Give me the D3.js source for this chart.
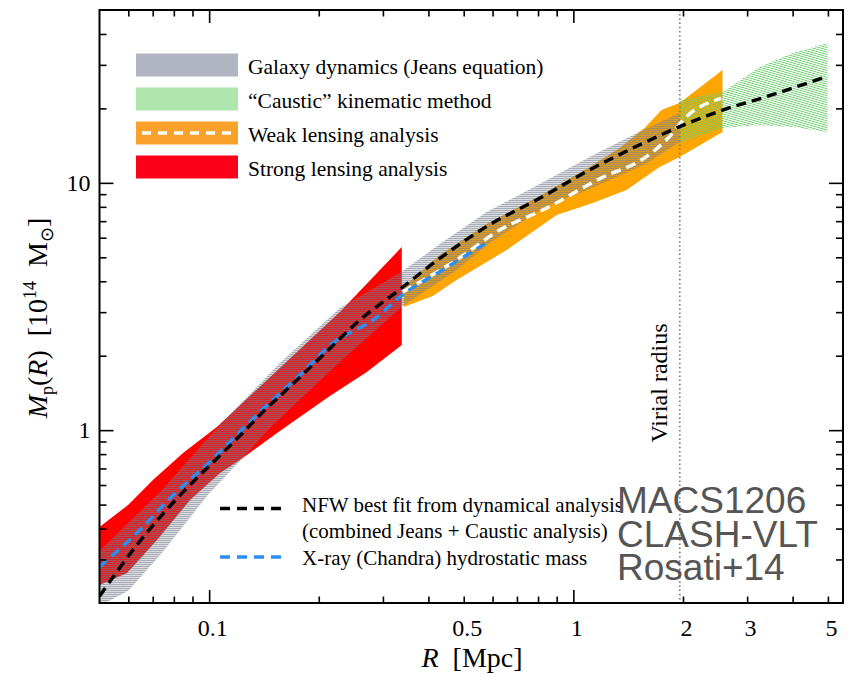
<!DOCTYPE html>
<html>
<head>
<meta charset="utf-8">
<script src="https://cdn.jsdelivr.net/npm/d3@7"></script>
<style>
  html, body { margin: 0; padding: 0; background: #fff; }
  svg { display: block; }
  text { font-family: "Liberation Serif", "Times New Roman", serif; fill: #000; }
</style>
</head>
<body>
<svg id="chart" width="854" height="677"></svg>
<script>
// Projected mass profile M_p(R) of MACS1206; R in Mpc, M in 1e14 Msun.

// NFW best fit (Jeans + Caustic)
const nfwR = [0.05, 0.0639, 0.0764, 0.0914, 0.1048, 0.1228, 0.1422, 0.1648, 0.2056, 0.2593, 0.3268, 0.4298, 0.577, 0.808, 1.108, 1.552, 1.957, 2.573, 3.385, 4.99];
const nfwM = [0.213, 0.349, 0.476, 0.629, 0.765, 0.965, 1.206, 1.476, 2.013, 2.79, 3.62, 4.95, 6.65, 8.66, 11.27, 14.45, 16.87, 19.7, 22.3, 27.0];

// X-ray (Chandra) hydrostatic mass
const xrayR = [0.05, 0.0639, 0.0789, 0.1016, 0.1253, 0.1547, 0.1774, 0.2186, 0.288, 0.3338, 0.4298, 0.571];
const xrayM = [0.280, 0.389, 0.538, 0.757, 1.033, 1.387, 1.671, 2.251, 2.85, 3.46, 4.372, 5.66];

// Weak lensing: central profile and band edges
const wlR = [0.3408, 0.4775, 0.628, 0.843, 1.181, 1.586, 1.837, 2.02, 2.547];
const wlM = [3.63, 4.876, 6.45, 7.89, 10.4, 12.76, 15.37, 18.2, 21.97];
const wlUpR = [0.3423, 0.4298, 0.578, 0.808, 1.108, 1.34, 1.569, 1.747, 1.957, 2.568];
const wlUpM = [3.792, 5.108, 6.816, 8.85, 11.59, 13.83, 16.66, 19.7, 21.03, 28.6];
const wlLoR = [0.3423, 0.4111, 0.478, 0.656, 0.8998, 1.13, 1.40, 1.725, 1.957, 2.568];
const wlLoM = [3.147, 3.486, 4.046, 5.35, 7.41, 8.29, 9.354, 11.59, 12.72, 16.05];

// Galaxy dynamics (Jeans equation) band edges
const jeansUpR = [0.05, 0.0742, 0.0992, 0.1084, 0.1564, 0.2285, 0.340, 0.4298, 0.578, 0.808, 1.108, 1.552, 1.957];
const jeansUpM = [0.3245, 0.5727, 0.929, 1.069, 1.868, 3.118, 4.40, 5.66, 7.62, 9.89, 12.72, 16.36, 19.16];
const jeansLoR = [0.05, 0.0599, 0.0742, 0.0992, 0.12, 0.1487, 0.2285, 0.340, 0.478, 0.589, 0.845, 1.108, 1.579, 1.957];
const jeansLoM = [0.195, 0.2237, 0.3186, 0.5466, 0.7364, 1.039, 1.886, 3.177, 4.441, 5.71, 8.06, 9.44, 11.92, 14.63];

// Caustic method band edges
const causticR = [1.957, 2.568, 3.244, 3.996, 4.985];
const causticUpM = [21.62, 23.3, 29.4, 33.5, 36.8];
const causticLoM = [14.5, 16.66, 17.14, 16.82, 16.05];

// Strong lensing band edges
const slUpR = [0.05, 0.0599, 0.0701, 0.0848, 0.105, 0.1564, 0.2285, 0.338];
const slUpM = [0.406, 0.498, 0.629, 0.808, 1.030, 1.784, 3.004, 5.50];
const slLoR = [0.05, 0.0595, 0.0719, 0.0886, 0.1071, 0.1215, 0.1564, 0.2145, 0.271, 0.338];
const slLoM = [0.2365, 0.2645, 0.3596, 0.5218, 0.671, 0.757, 0.992, 1.374, 1.718, 2.21];

const virialR = 1.96;

// Axis ticks and labels
const xMajor = [0.1, 1];
const xMinor = [0.06, 0.07, 0.08, 0.09, 0.2, 0.3, 0.4, 0.5, 0.6, 0.7, 0.8, 0.9, 2, 3, 4, 5];
const xLabels = [0.1, 0.5, 1, 2, 3, 5];
const yMajor = [1, 10];
const yMinor = [0.3, 0.4, 0.5, 0.6, 0.7, 0.8, 0.9, 2, 3, 4, 5, 6, 7, 8, 9, 20, 30, 40];
const yLabels = [1, 10];

const legendBands = [
  { label: "Galaxy dynamics (Jeans equation)", color: "#b0b5c1" },
  { label: "\u201CCaustic\u201D kinematic method", color: "#aee6ae" },
  { label: "Weak lensing analysis", color: "#f9a12b", dashed: true },
  { label: "Strong lensing analysis", color: "#fb0018" }
];
const legendLines = [
  { lines: ["NFW best fit from dynamical analysis", "(combined Jeans + Caustic analysis)"], color: "#000" },
  { lines: ["X-ray (Chandra) hydrostatic mass"], color: "#2a8ff0" }
];
const tagLines = ["MACS1206", "CLASH-VLT", "Rosati+14"];

const svg = d3.select("#chart");
const plot = { left: 99.5, right: 843, top: 10, bottom: 603 };

const x = d3.scaleLog().domain([0.05, 5.5]).range([plot.left, plot.right]);
const y = d3.scaleLog().domain([0.2, 50]).range([plot.bottom, plot.top]);

const defs = svg.append("defs");
defs.append("clipPath").attr("id", "plotClip")
  .append("rect")
  .attr("x", plot.left).attr("y", plot.top)
  .attr("width", plot.right - plot.left).attr("height", plot.bottom - plot.top);

// fine line fill for the Jeans band (two alternating shades of grey)
const jp = defs.append("pattern").attr("id", "jeansFill")
  .attr("patternUnits", "userSpaceOnUse").attr("width", 2).attr("height", 2);
jp.append("rect").attr("x", 0).attr("y", 0).attr("width", 2).attr("height", 1)
  .attr("fill", "rgb(118,124,140)").attr("fill-opacity", 0.62);
jp.append("rect").attr("x", 0).attr("y", 1).attr("width", 2).attr("height", 1)
  .attr("fill", "rgb(118,124,140)").attr("fill-opacity", 0.28);

// slanted line fill for the caustic band
const cp = defs.append("pattern").attr("id", "causticFill")
  .attr("patternUnits", "userSpaceOnUse").attr("width", 6).attr("height", 2.2)
  .attr("patternTransform", "rotate(16)");
cp.append("rect").attr("x", 0).attr("y", 0).attr("width", 6).attr("height", 0.9)
  .attr("fill", "rgb(105,205,105)");

const zip = (a, b) => a.map((v, i) => [v, b[i]]);
const lineGen = d3.line().x(d => x(d[0])).y(d => y(d[1]));
const smoothGen = d3.line().x(d => x(d[0])).y(d => y(d[1])).curve(d3.curveMonotoneX);

function bandPath(upR, upM, loR, loM) {
  const pts = zip(upR, upM).concat(zip(loR, loM).reverse());
  return lineGen(pts) + "Z";
}

const bands = svg.append("g").attr("clip-path", "url(#plotClip)");

bands.append("path").attr("d", bandPath(slUpR, slUpM, slLoR, slLoM)).attr("fill", "#ff0000");
bands.append("path").attr("d", bandPath(wlUpR, wlUpM, wlLoR, wlLoM)).attr("fill", "#ffa500");
bands.append("path").attr("d", bandPath(jeansUpR, jeansUpM, jeansLoR, jeansLoM)).attr("fill", "url(#jeansFill)");
bands.append("path").attr("d", bandPath(causticR, causticUpM, causticR, causticLoM)).attr("fill", "url(#causticFill)");

// virial radius marker
svg.append("line")
  .attr("x1", x(virialR)).attr("x2", x(virialR))
  .attr("y1", plot.top).attr("y2", plot.bottom)
  .attr("stroke", "#7a7a7a").attr("stroke-width", 1.7)
  .attr("stroke-dasharray", "1.5,2.7");

const lines = svg.append("g").attr("clip-path", "url(#plotClip)").attr("fill", "none")
  .attr("stroke-width", 3.4).attr("stroke-dasharray", "10,6");
lines.append("path").attr("d", smoothGen(zip(wlR, wlM))).attr("stroke", "#ffffff");
lines.append("path").attr("d", smoothGen(zip(xrayR, xrayM))).attr("stroke", "#2a8ff0");
lines.append("path").attr("d", smoothGen(zip(nfwR, nfwM))).attr("stroke", "#000000");

// axes: inward ticks on all four sides
function tickAxis(axisFn, scale, values, size, transform) {
  const g = svg.append("g").attr("transform", transform)
    .call(axisFn(scale).tickValues(values).tickSize(-size).tickFormat(""));
  g.select(".domain").remove();
  g.selectAll(".tick line").attr("stroke", "#000").attr("stroke-width", 1.6);
  return g;
}
tickAxis(d3.axisBottom, x, xMajor, 13, `translate(0,${plot.bottom})`);
tickAxis(d3.axisBottom, x, xMinor, 6.5, `translate(0,${plot.bottom})`);
tickAxis(d3.axisTop, x, xMajor, 13, `translate(0,${plot.top})`);
tickAxis(d3.axisTop, x, xMinor, 6.5, `translate(0,${plot.top})`);
tickAxis(d3.axisLeft, y, yMajor, 14, `translate(${plot.left},0)`);
tickAxis(d3.axisLeft, y, yMinor, 7, `translate(${plot.left},0)`);
tickAxis(d3.axisRight, y, yMajor, 14, `translate(${plot.right},0)`);
tickAxis(d3.axisRight, y, yMinor, 7, `translate(${plot.right},0)`);

const xl = svg.append("g").attr("transform", `translate(3,${plot.bottom})`)
  .call(d3.axisBottom(x).tickValues(xLabels).tickSize(0).tickPadding(16).tickFormat(d => String(d)));
xl.select(".domain").remove();
xl.selectAll("text").attr("font-size", 24).attr("font-family", "Liberation Serif");

const yl = svg.append("g").attr("transform", `translate(${plot.left},0)`)
  .call(d3.axisLeft(y).tickValues(yLabels).tickSize(0).tickPadding(9).tickFormat(d => String(d)));
yl.select(".domain").remove();
yl.selectAll("text").attr("font-size", 24).attr("font-family", "Liberation Serif");

// frame
svg.append("rect")
  .attr("x", plot.left).attr("y", plot.top)
  .attr("width", plot.right - plot.left).attr("height", plot.bottom - plot.top)
  .attr("fill", "none").attr("stroke", "#000").attr("stroke-width", 2);

// axis titles
const xt = svg.append("text").attr("x", 472).attr("y", 667)
  .attr("text-anchor", "middle").attr("font-size", 28).style("white-space", "pre");
xt.append("tspan").attr("font-style", "italic").text("R");
xt.append("tspan").text("  [Mpc]");

const yt = svg.append("text").attr("transform", "translate(47,318) rotate(-90)")
  .attr("text-anchor", "middle").attr("font-size", 28).style("white-space", "pre");
yt.append("tspan").attr("font-style", "italic").text("M");
yt.append("tspan").attr("font-size", 18).attr("dy", 6).text("p");
yt.append("tspan").attr("dy", -6).text("(");
yt.append("tspan").attr("font-style", "italic").text("R");
yt.append("tspan").text(")  [10");
yt.append("tspan").attr("font-size", 18).attr("dy", -11).text("14");
yt.append("tspan").attr("dy", 11).text("  M");
yt.append("tspan").attr("font-size", 18).attr("dy", 6).text("\u2299");
yt.append("tspan").attr("dy", -6).text("]");

// virial radius label
svg.append("text")
  .attr("transform", `translate(667,383) rotate(-90)`)
  .attr("text-anchor", "middle").attr("font-size", 24)
  .text("Virial radius");

// legend for the bands
const lg = svg.append("g");
legendBands.forEach((d, i) => {
  const cy = 65 + i * 34;
  lg.append("rect").attr("x", 136).attr("y", cy - 11.5).attr("width", 102).attr("height", 23).attr("fill", d.color);
  if (d.dashed) {
    lg.append("line").attr("x1", 142).attr("x2", 234).attr("y1", cy).attr("y2", cy)
      .attr("stroke", "#fff").attr("stroke-width", 3.4).attr("stroke-dasharray", "9,7");
  }
  lg.append("text").attr("x", 248).attr("y", cy + 9).attr("font-size", 21.5).text(d.label);
});

// legend for the profiles
const baselines = [[512, 538], [565]];
const sampleY = [508.5, 557];
legendLines.forEach((d, i) => {
  lg.append("line").attr("x1", 220).attr("x2", 282).attr("y1", sampleY[i]).attr("y2", sampleY[i])
    .attr("stroke", d.color).attr("stroke-width", 3.4).attr("stroke-dasharray", "10,7");
  d.lines.forEach((t, j) => {
    lg.append("text").attr("x", 302).attr("y", baselines[i][j]).attr("font-size", 21).text(t);
  });
});

// cluster tag
tagLines.forEach((t, i) => {
  svg.append("text").attr("x", 617).attr("y", 513 + i * 33.5)
    .style("font-family", "'Liberation Sans', Arial, sans-serif")
    .attr("font-size", 37).style("fill", "#555555").text(t);
});
</script>
</body>
</html>
